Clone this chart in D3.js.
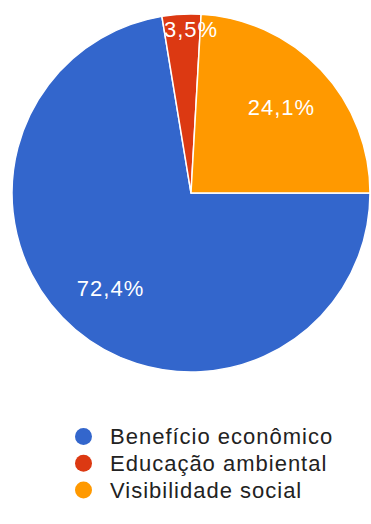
<!DOCTYPE html>
<html>
<head>
<meta charset="utf-8">
<script src="https://cdn.jsdelivr.net/npm/d3@7"></script>
<style>
  html, body { margin: 0; padding: 0; background: #ffffff; }
  svg { display: block; }
  text { font-family: "Liberation Sans", Arial, sans-serif; }
</style>
</head>
<body>
<svg id="chart" width="371" height="524"></svg>
<script>
// Survey answers: share of each perceived benefit
const categories = ["Benefício econômico", "Educação ambiental", "Visibilidade social"];
const values = [72.4, 3.5, 24.1];
const valueLabels = ["72,4%", "3,5%", "24,1%"];
const colors = ["#3366cc", "#dc3912", "#ff9900"];

const width = 371, height = 524;
const cx = 191, cy = 193, radius = 179;

const svg = d3.select("#chart");

const color = d3.scaleOrdinal().domain(categories).range(colors);

// Slices run clockwise, starting at three o'clock
const pie = d3.pie()
  .sort(null)
  .value(d => d.value)
  .startAngle(Math.PI / 2)
  .endAngle(Math.PI / 2 + 2 * Math.PI);

const data = categories.map((c, i) => ({ name: c, value: values[i], label: valueLabels[i] }));
const arcs = pie(data);

const arc = d3.arc().innerRadius(0).outerRadius(radius);

const g = svg.append("g").attr("transform", `translate(${cx},${cy})`);

g.selectAll("path.slice")
  .data(arcs)
  .join("path")
  .attr("class", "slice")
  .attr("d", arc)
  .attr("fill", d => color(d.data.name))
  .attr("stroke", "#ffffff")
  .attr("stroke-width", 1.5)
  .attr("stroke-linejoin", "round");

// Percentage labels: wide slices get a centred label, narrow ones start at the slice edge near the rim
g.selectAll("text.value")
  .data(arcs)
  .join("text")
  .attr("class", "value")
  .each(function (d) {
    const span = d.endAngle - d.startAngle;
    const narrow = span < 0.4;
    const a = narrow ? d.startAngle : (d.startAngle + d.endAngle) / 2;
    const r = narrow ? radius * 0.93 : radius * 0.695;
    d3.select(this)
      .attr("x", Math.sin(a) * r)
      .attr("y", -Math.cos(a) * r)
      .attr("text-anchor", narrow ? "start" : "middle");
  })
  .attr("dy", "0.36em")
  .attr("fill", "#ffffff")
  .attr("font-size", 22)
  .attr("letter-spacing", 1)
  .text(d => d.data.label);

// Legend
const legendY = d3.scalePoint().domain(categories).range([436.5, 490]);

const legend = svg.append("g");
const items = legend.selectAll("g.item")
  .data(categories)
  .join("g")
  .attr("class", "item")
  .attr("transform", d => `translate(0,${legendY(d)})`);

items.append("circle")
  .attr("cx", 83.5)
  .attr("cy", 0)
  .attr("r", 8.5)
  .attr("fill", d => color(d));

items.append("text")
  .attr("x", 110)
  .attr("y", 0)
  .attr("dy", "0.36em")
  .attr("fill", "#222222")
  .attr("font-size", 22)
  .attr("letter-spacing", 1)
  .text(d => d);
</script>
</body>
</html>
